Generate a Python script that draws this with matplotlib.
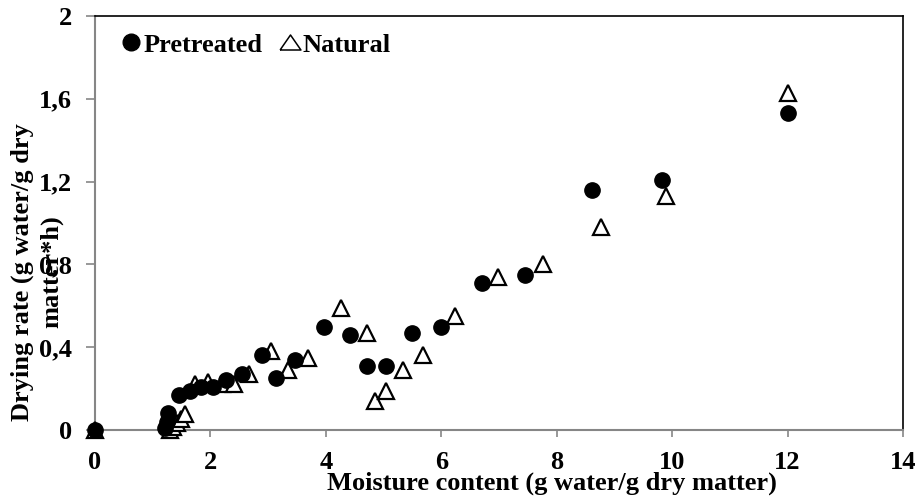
import matplotlib
matplotlib.use("Agg")
import matplotlib.pyplot as plt
from matplotlib.lines import Line2D

# Drying rate vs moisture content
pretreated_x = [0, 1.21, 1.24, 1.27, 1.46, 1.65, 1.84, 2.05, 2.27, 2.55, 2.89, 3.14, 3.47,
                3.97, 4.42, 4.72, 5.04, 5.49, 6.0, 6.71, 7.45, 8.61, 9.83, 12.01]
pretreated_y = [0, 0.01, 0.04, 0.08, 0.17, 0.19, 0.21, 0.21, 0.24, 0.27, 0.36, 0.25, 0.34,
                0.50, 0.46, 0.31, 0.31, 0.47, 0.50, 0.71, 0.75, 1.16, 1.21, 1.53]

natural_x = [0, 1.30, 1.35, 1.42, 1.49, 1.56, 1.73, 1.95, 2.20, 2.41, 2.67, 3.05, 3.34,
             3.69, 4.27, 4.72, 4.86, 5.05, 5.34, 5.68, 6.24, 6.98, 7.77, 8.77, 9.90, 12.01]
natural_y = [0, 0.0, 0.015, 0.035, 0.055, 0.075, 0.22, 0.23, 0.22, 0.22, 0.27, 0.38, 0.29,
             0.35, 0.59, 0.47, 0.14, 0.19, 0.29, 0.36, 0.55, 0.74, 0.80, 0.98, 1.13, 1.63]

x_ticks = [0, 2, 4, 6, 8, 10, 12, 14]
y_ticks = [0, 0.4, 0.8, 1.2, 1.6, 2.0]
y_tick_labels = ["0", "0,4", "0,8", "1,2", "1,6", "2"]

plt.rcParams['font.family'] = ['Liberation Serif', 'DejaVu Serif']
plt.rcParams['font.weight'] = 'bold'
FS = 19

W, H = 922, 498
fig = plt.figure(figsize=(W / 100, H / 100), dpi=100)
ax = fig.add_axes([95 / W, 1 - 430 / H, (903 - 95) / W, (430 - 16) / H])

ax.plot(natural_x, natural_y, linestyle='none', marker='^', markersize=12,
        markerfacecolor='white', markeredgecolor='black', markeredgewidth=1.6,
        clip_on=False, zorder=3)
ax.plot(pretreated_x, pretreated_y, linestyle='none', marker='o', markersize=11,
        markerfacecolor='black', markeredgecolor='black', clip_on=False, zorder=4)

ax.set_xlim(0, 14)
ax.set_ylim(0, 2)
ax.set_xticks(x_ticks)
ax.set_yticks(y_ticks)
ax.set_yticklabels(y_tick_labels)

for side in ['left', 'bottom']:
    ax.spines[side].set_color('#868686')
    ax.spines[side].set_linewidth(1.5)
for side in ['top', 'right']:
    ax.spines[side].set_color('black')
    ax.spines[side].set_linewidth(1.2)

ax.tick_params(axis='x', direction='out', length=5, width=1.2, color='#868686',
               pad=10, labelsize=FS)
ax.tick_params(axis='y', direction='out', length=6.5, width=1.2, color='#868686',
               pad=10, labelsize=FS)

# legend glyphs: a filled dot and a flat open triangle
flat_triangle = [(-1, -0.72), (1, -0.72), (0, 0.72), (-1, -0.72)]
handles = [Line2D([], [], linestyle='none', marker='o', markersize=12,
                  markerfacecolor='black', markeredgecolor='black'),
           Line2D([], [], linestyle='none', marker=flat_triangle, markersize=15,
                  markerfacecolor='white', markeredgecolor='black', markeredgewidth=1.1)]
ax.legend(handles, ['Pretreated', 'Natural'], ncol=2, frameon=False,
          loc='center left', bbox_to_anchor=(122 / W, 1 - 45 / H),
          bbox_transform=fig.transFigure, handlelength=0.7, handletextpad=0.1,
          columnspacing=0.72, borderpad=0, borderaxespad=0,
          prop={'size': FS, 'weight': 'bold'})

fig.text(552 / W, 1 - 483 / H, 'Moisture content (g water/g dry matter)',
         ha='center', va='center', fontsize=FS, fontweight='bold')
fig.text(37 / W, 1 - 272 / H, 'Drying rate (g water/g dry\nmatter*h)',
         ha='center', va='center', rotation=90, fontsize=FS, fontweight='bold',
         multialignment='center', linespacing=1.3)

fig.savefig('out.png', dpi=100)
